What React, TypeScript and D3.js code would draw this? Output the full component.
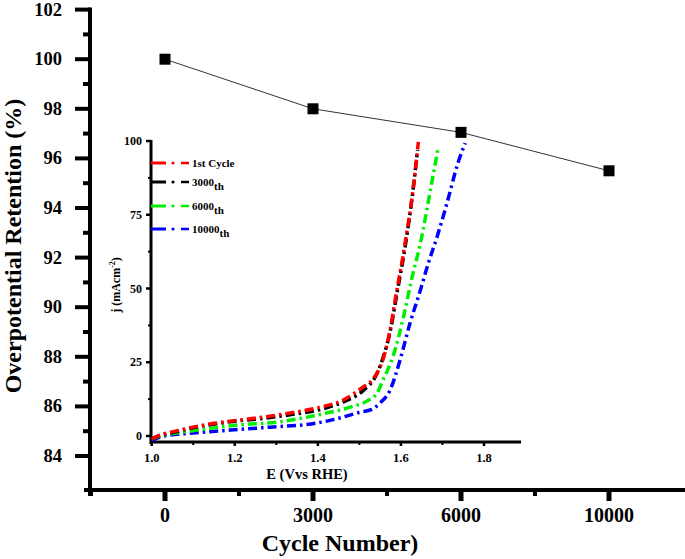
import React from "react";
import * as d3 from "d3";

const cycles = ["0", "3000", "6000", "10000"];
const retention = [100, 98, 97.05, 95.5];
const mainYTicks = [84, 86, 88, 90, 92, 94, 96, 98, 100, 102];

const insetXTicks = [1.0, 1.2, 1.4, 1.6, 1.8];
const insetYTicks = [0, 25, 50, 75, 100];

const seriesNames = ["1st Cycle", "3000", "6000", "10000"];
const seriesSub = ["", "th", "th", "th"];
const seriesColors = ["#ff0000", "#000000", "#00ee00", "#0000ff"];

const cycle1: [number, number][] = [
  [1.0, -1], [1.02, 0.3], [1.05, 1.4], [1.1, 3], [1.15, 4.3], [1.206, 5.3], [1.268, 6.4],
  [1.333, 7.8], [1.398, 9.5], [1.461, 12.2], [1.509, 16.6], [1.531, 19], [1.545, 22],
  [1.557, 26], [1.574, 36], [1.586, 46], [1.61, 65.4], [1.63, 84.4], [1.642, 99.7],
];
const cycle3000: [number, number][] = [
  [1.0, -1], [1.02, 0.2], [1.05, 1.2], [1.13, 3.6], [1.2, 5], [1.27, 6], [1.333, 7.2],
  [1.4, 8.8], [1.46, 11.5], [1.51, 15.5], [1.54, 20.5], [1.558, 27], [1.575, 36],
  [1.59, 48], [1.61, 64], [1.628, 82], [1.64, 97],
];
const cycle6000: [number, number][] = [
  [1.0, -1], [1.02, 0], [1.05, 0.8], [1.11, 2], [1.206, 3.7], [1.302, 4.7], [1.398, 7.1],
  [1.478, 9.8], [1.52, 12], [1.543, 14.6], [1.557, 19], [1.568, 22.4], [1.581, 27],
  [1.606, 40.3], [1.627, 53.9], [1.647, 65.4], [1.671, 83.4], [1.69, 98],
];
const cycle10000: [number, number][] = [
  [1.0, -1.5], [1.03, 0], [1.1, 1], [1.19, 2], [1.285, 3], [1.398, 4.4], [1.45, 6],
  [1.5, 8], [1.53, 9], [1.55, 11.2], [1.574, 15.6], [1.598, 25.8], [1.622, 38.3],
  [1.647, 49.5], [1.666, 58.6], [1.687, 67.5], [1.711, 79], [1.738, 92.9], [1.755, 99.3],
];
const seriesData = [cycle1, cycle3000, cycle6000, cycle10000];

const FONT = "'Liberation Serif', 'Times New Roman', serif";

export default function App() {
  // main chart scales
  const x = d3.scaleLinear().domain([0, 3]).range([165, 609]);
  const y = d3.scaleLinear().domain([84, 102]).range([456, 9.6]);
  const axisX = 90;
  const axisY = 490;

  const minorY = d3.range(85, 102, 2);
  const minorX = [-0.5, 0.5, 1.5, 2.5];

  const mainLine = d3
    .line<number>()
    .x((_, i) => x(i))
    .y((d) => y(d));

  // inset scales
  const ix = d3.scaleLinear().domain([1.0, 1.8]).range([151.7, 484]);
  const iy = d3.scaleLinear().domain([0, 100]).range([436, 141]);
  const iAxisX = 151;
  const iAxisY = 442;
  const iMinorX = [1.1, 1.3, 1.5, 1.7];
  const iMinorY = [12.5, 37.5, 62.5, 87.5];
  const curve = d3
    .line<[number, number]>()
    .x((d) => ix(d[0]))
    .y((d) => iy(d[1]))
    .curve(d3.curveMonotoneX);

  const legendY = [163, 182, 206, 229];
  const drawOrder = [3, 2, 1, 0];

  return (
    <svg
      width={685}
      height={559}
      style={{ position: "absolute", left: 0, top: 0, background: "#fff" }}
      fontFamily={FONT}
      fontWeight="bold"
    >
      <rect x={0} y={0} width={685} height={559} fill="#fff" />

      {/* main y axis */}
      <line x1={axisX} x2={axisX} y1={y(102) - 2} y2={axisY + 6} stroke="#000" strokeWidth={4} />
      {mainYTicks.map((t) => (
        <g key={"yt" + t}>
          <line x1={axisX - 15} x2={axisX} y1={y(t)} y2={y(t)} stroke="#000" strokeWidth={4} />
          <text x={62} y={y(t) + 6} textAnchor="end" fontSize={18.5}>
            {t}
          </text>
        </g>
      ))}
      {minorY.map((t) => (
        <line key={"ym" + t} x1={axisX - 7} x2={axisX} y1={y(t)} y2={y(t)} stroke="#000" strokeWidth={4} />
      ))}

      {/* main x axis */}
      <line x1={84} x2={685} y1={axisY} y2={axisY} stroke="#000" strokeWidth={4} />
      {cycles.map((c, i) => (
        <g key={"xt" + c}>
          <line x1={x(i)} x2={x(i)} y1={axisY} y2={axisY + 11} stroke="#000" strokeWidth={5} />
          <text x={x(i)} y={axisY + 32} textAnchor="middle" fontSize={20}>
            {c}
          </text>
        </g>
      ))}
      {minorX.map((m) => (
        <line key={"xm" + m} x1={x(m)} x2={x(m)} y1={axisY} y2={axisY + 6} stroke="#000" strokeWidth={4} />
      ))}

      {/* axis titles */}
      <text x={340} y={551} textAnchor="middle" fontSize={24}>
        Cycle Number)
      </text>
      <text
        transform={`translate(21,246) rotate(-90)`}
        textAnchor="middle"
        fontSize={24}
      >
        Overpotential Retention (%)
      </text>

      {/* main data */}
      <path d={mainLine(retention) || ""} fill="none" stroke="#333" strokeWidth={1} />
      {retention.map((v, i) => (
        <rect key={"pt" + i} x={x(i) - 5.5} y={y(v) - 5.5} width={11} height={11} fill="#000" />
      ))}

      {/* inset axes */}
      <line x1={iAxisX} x2={iAxisX} y1={iy(100) - 1} y2={iAxisY + 2} stroke="#000" strokeWidth={3} />
      <line x1={iAxisX - 1} x2={521} y1={iAxisY} y2={iAxisY} stroke="#000" strokeWidth={3} />
      {insetYTicks.map((t) => (
        <g key={"iyt" + t}>
          <line x1={iAxisX - 5} x2={iAxisX} y1={iy(t)} y2={iy(t)} stroke="#000" strokeWidth={2.5} />
          <text x={142} y={iy(t) + 4} textAnchor="end" fontSize={12}>
            {t}
          </text>
        </g>
      ))}
      {iMinorY.map((t) => (
        <line key={"iym" + t} x1={iAxisX - 3} x2={iAxisX} y1={iy(t)} y2={iy(t)} stroke="#000" strokeWidth={2} />
      ))}
      {insetXTicks.map((t) => (
        <g key={"ixt" + t}>
          <line x1={ix(t)} x2={ix(t)} y1={iAxisY} y2={iAxisY + 4} stroke="#000" strokeWidth={2.5} />
          <text x={ix(t)} y={iAxisY + 20} textAnchor="middle" fontSize={12.5}>
            {t.toFixed(1)}
          </text>
        </g>
      ))}
      {iMinorX.map((t) => (
        <line key={"ixm" + t} x1={ix(t)} x2={ix(t)} y1={iAxisY} y2={iAxisY + 3} stroke="#000" strokeWidth={2} />
      ))}
      <text x={307} y={479} textAnchor="middle" fontSize={14.5}>
        E (Vvs RHE)
      </text>
      <text transform={`translate(120,285) rotate(-90)`} textAnchor="middle" fontSize={12}>
        j (mAcm
        <tspan dy={-5} fontSize={8}>-2</tspan>
        <tspan dy={5}>)</tspan>
      </text>

      {/* inset curves */}
      {drawOrder.map((k) => (
        <path
          key={"c" + k}
          d={curve(seriesData[k]) || ""}
          fill="none"
          stroke={seriesColors[k]}
          strokeWidth={3.5}
          strokeDasharray="9,4,2.5,4"
        />
      ))}

      {/* inset legend */}
      {seriesNames.map((n, k) => (
        <g key={"lg" + k}>
          <line x1={151} x2={166} y1={legendY[k]} y2={legendY[k]} stroke={seriesColors[k]} strokeWidth={3} />
          <circle cx={173} cy={legendY[k]} r={1.6} fill={seriesColors[k]} />
          <line x1={181} x2={189} y1={legendY[k]} y2={legendY[k]} stroke={seriesColors[k]} strokeWidth={2.5} />
          <text x={192} y={legendY[k] + 4} fontSize={11}>
            {n}
            {seriesSub[k] ? (
              <tspan dy={4} fontSize={11}>
                {seriesSub[k]}
              </tspan>
            ) : null}
          </text>
        </g>
      ))}
    </svg>
  );
}
